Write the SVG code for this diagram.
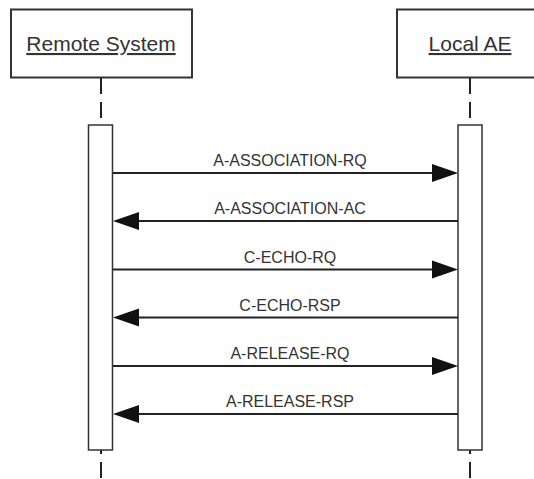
<svg xmlns="http://www.w3.org/2000/svg" width="534" height="479" viewBox="0 0 534 479">
<style>
.box{fill:#fff;stroke:#333;stroke-width:2}
.life{stroke:#222;stroke-width:2;stroke-dasharray:16 8;fill:none}
.act{fill:#fff;stroke:#333;stroke-width:1.5}
.hdr{font-family:"Liberation Sans",Arial,sans-serif;font-size:21px;fill:#333;text-anchor:middle;text-decoration:underline}
.msg{stroke:#222;stroke-width:2;fill:none}
.head{fill:#111}
.lbl{font-family:"Liberation Sans",Arial,sans-serif;font-size:16px;fill:#333;text-anchor:middle}
</style>
<rect width="534" height="479" fill="#fff"/>
<g id="remote">
<rect class="box" x="11" y="9.5" width="181" height="68"/>
<text class="hdr" x="101" y="51">Remote System</text>
<line class="life" x1="101" y1="78" x2="101" y2="479"/>
<rect class="act" x="88.5" y="125" width="24" height="325"/>
</g>
<g id="local">
<rect class="box" x="397" y="9.5" width="146" height="68"/>
<text class="hdr" x="470" y="51">Local AE</text>
<line class="life" x1="470" y1="78" x2="470" y2="479"/>
<rect class="act" x="458" y="125" width="24" height="325"/>
</g>
<g id="connectors">
<line class="msg" x1="113" y1="173" x2="436" y2="173"/>
<polygon class="head" points="458,173 432,164 432,182"/>
<text class="lbl" x="290" y="166">A-ASSOCIATION-RQ</text>
<line class="msg" x1="458" y1="221" x2="135" y2="221"/>
<polygon class="head" points="113,221 139,212 139,230"/>
<text class="lbl" x="290" y="214">A-ASSOCIATION-AC</text>
<line class="msg" x1="113" y1="269.5" x2="436" y2="269.5"/>
<polygon class="head" points="458,269.5 432,260.5 432,278.5"/>
<text class="lbl" x="290" y="262.5">C-ECHO-RQ</text>
<line class="msg" x1="458" y1="317.5" x2="135" y2="317.5"/>
<polygon class="head" points="113,317.5 139,308.5 139,326.5"/>
<text class="lbl" x="290" y="310.5">C-ECHO-RSP</text>
<line class="msg" x1="113" y1="366" x2="436" y2="366"/>
<polygon class="head" points="458,366 432,357 432,375"/>
<text class="lbl" x="290" y="359">A-RELEASE-RQ</text>
<line class="msg" x1="458" y1="414" x2="135" y2="414"/>
<polygon class="head" points="113,414 139,405 139,423"/>
<text class="lbl" x="290" y="407">A-RELEASE-RSP</text>
</g>
</svg>
